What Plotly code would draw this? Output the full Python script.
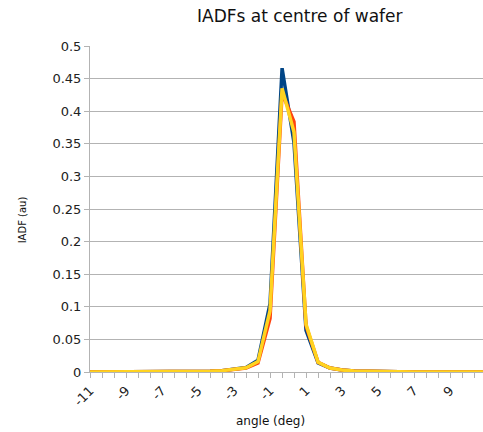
import plotly.graph_objects as go

angle = [-11.0, -10.33, -9.67, -9.0, -8.33, -7.67, -7.0, -6.33, -5.67, -5.0,
         -4.33, -3.67, -3.0, -2.33, -1.67, -1.0, -0.33, 0.33, 1.0, 1.67,
         2.33, 3.0, 3.67, 4.33, 5.0, 5.67, 6.33, 7.0, 7.67, 8.33,
         9.0, 9.67, 10.33, 11.0]

series_a = [0, 0, 0, 0, 0, 0, 0, 0, 0, 0.0005,
            0.001, 0.002, 0.004, 0.007, 0.018, 0.105, 0.466, 0.352, 0.064, 0.014,
            0.006, 0.003, 0.0015, 0.001, 0.0005, 0, 0, 0, 0, 0,
            0, 0, 0, 0]
series_b = [0, 0, 0, 0, 0, 0, 0, 0, 0, 0.0005,
            0.001, 0.002, 0.004, 0.006, 0.014, 0.082, 0.428, 0.384, 0.071, 0.015,
            0.006, 0.003, 0.0015, 0.001, 0.0005, 0, 0, 0, 0, 0,
            0, 0, 0, 0]
series_c = [0, 0, 0, 0, 0, 0, 0, 0, 0, 0.0005,
            0.001, 0.002, 0.004, 0.0065, 0.016, 0.094, 0.435, 0.368, 0.073, 0.015,
            0.006, 0.003, 0.0015, 0.001, 0.0005, 0, 0, 0, 0, 0,
            0, 0, 0, 0]

x_tick_vals = [-11, -9, -7, -5, -3, -1, 1, 3, 5, 7, 9, 11]
x_tick_text = ["-11", "-9", "-7", "-5", "-3", "-1", "1", "3", "5", "7", "9", "11"]
y_tick_vals = [0, 0.05, 0.1, 0.15, 0.2, 0.25, 0.3, 0.35, 0.4, 0.45, 0.5]
y_tick_text = ["0", "0.05", "0.1", "0.15", "0.2", "0.25", "0.3", "0.35", "0.4", "0.45", "0.5"]

colors = ["#004586", "#ff420e", "#ffd320"]

fig = go.Figure()
for vals, col in zip([series_a, series_b, series_c], colors):
    fig.add_trace(go.Scatter(x=angle, y=vals, mode="lines",
                             line=dict(color=col, width=3.5),
                             showlegend=False, hoverinfo="skip"))

font = "DejaVu Sans, Liberation Sans, sans-serif"
fig.update_layout(
    width=483, height=432,
    margin=dict(l=90, r=0, t=46, b=60),
    paper_bgcolor="white", plot_bgcolor="white",
    font=dict(family=font, size=13, color="#222222"),
    xaxis=dict(range=[-11, 10.83], tickmode="array", tickvals=x_tick_vals,
               ticktext=x_tick_text, tickangle=-45, showgrid=False,
               showline=True, linecolor="#b3b3b3", linewidth=1,
               ticks="outside", ticklen=5, tickcolor="#b3b3b3",
               minor=dict(tick0=-11, dtick=2/3, ticks="outside", ticklen=5,
                          tickcolor="#b3b3b3", showgrid=False),
               zeroline=False, tickfont=dict(size=13)),
    yaxis=dict(range=[0, 0.5], tickmode="array", tickvals=y_tick_vals,
               ticktext=y_tick_text, showgrid=True, gridcolor="#b3b3b3",
               showline=True, linecolor="#b3b3b3", linewidth=1,
               ticks="outside", ticklen=5, tickcolor="#b3b3b3",
               zeroline=False, tickfont=dict(size=13)),
    annotations=[
        dict(text="IADFs at centre of wafer", xref="paper", yref="paper",
             x=(300 - 90) / 393, y=1, yshift=30, yanchor="middle",
             showarrow=False,
             font=dict(size=17, family=font, color="#111111")),
        dict(text="angle (deg)", xref="paper", yref="paper",
             x=(270 - 90) / 393, y=0, yshift=-49, yanchor="middle",
             showarrow=False,
             font=dict(size=12, family=font, color="#111111")),
        dict(text="IADF (au)", xref="paper", yref="paper",
             x=0, xshift=-68, xanchor="center", y=(371.5 - 220) / 325.7,
             yanchor="middle", textangle=-90,
             showarrow=False, font=dict(size=10, family=font, color="#111111")),
    ],
)

fig.write_html("out.html")
